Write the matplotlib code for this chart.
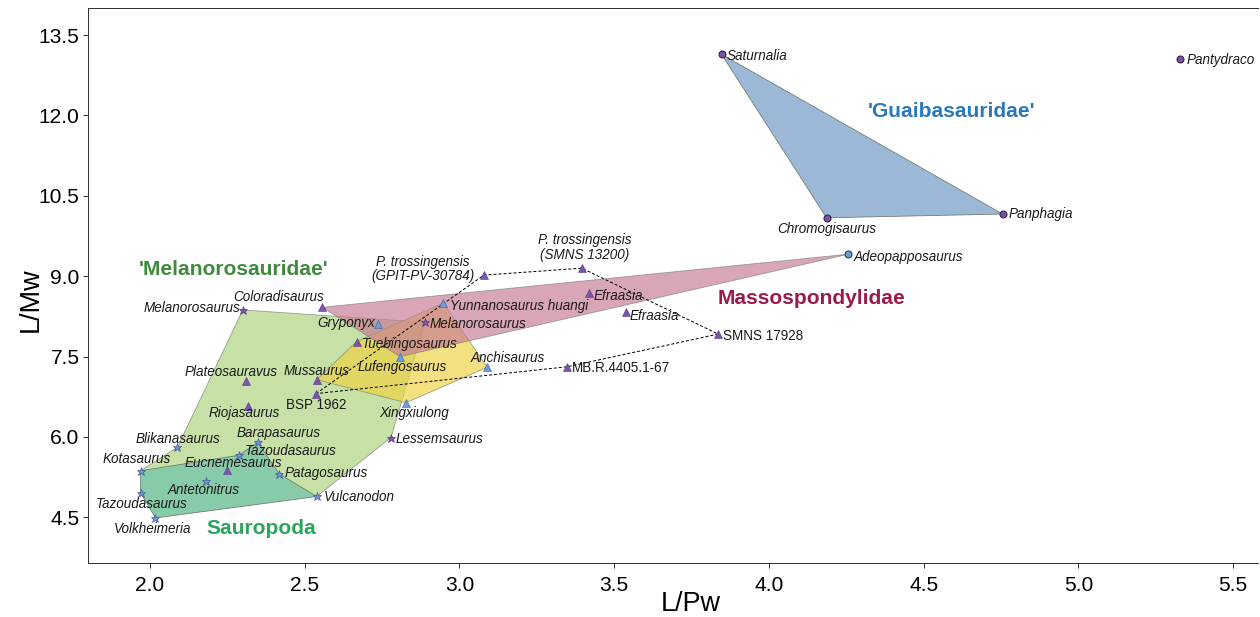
import matplotlib
matplotlib.use("Agg")
from matplotlib import pyplot as plt
from matplotlib.patches import Polygon

plt.rcParams['font.family'] = ['Liberation Sans', 'DejaVu Sans']

# specimen values (L/Pw, L/Mw)
guaiba_names = ['Saturnalia', 'Chromogisaurus', 'Panphagia', 'Pantydraco', 'Adeopapposaurus']
guaiba_x = [3.847, 4.186, 4.755, 5.328, 4.256]
guaiba_y = [13.14, 10.09, 10.16, 13.05, 9.41]

purple_tri_names = ['Coloradisaurus', 'Tuebingosaurus', 'Mussaurus', 'BSP 1962', 'Plateosauravus',
                    'Riojasaurus', 'Eucnemesaurus', 'GPIT', 'SMNS 13200', 'Efraasia1', 'Efraasia2',
                    'SMNS 17928', 'MB.R.4405.1-67']
purple_tri_x = [2.557, 2.668, 2.539, 2.537, 2.310, 2.318, 2.248, 3.079, 3.395, 3.419, 3.537, 3.836, 3.348]
purple_tri_y = [8.42, 7.78, 7.07, 6.81, 7.05, 6.57, 5.38, 9.02, 9.15, 8.68, 8.33, 7.92, 7.31]

blue_tri_names = ['Gryponyx', 'Yunnanosaurus huangi', 'Lufengosaurus', 'Xingxiulong', 'Anchisaurus']
blue_tri_x = [2.738, 2.948, 2.808, 2.827, 3.090]
blue_tri_y = [8.11, 8.50, 7.50, 6.64, 7.30]

purple_star_names = ['MelanorosaurusL', 'MelanorosaurusR', 'Lessemsaurus']
purple_star_x = [2.300, 2.889, 2.779]
purple_star_y = [8.37, 8.14, 5.99]

blue_star_names = ['Blikanasaurus', 'Barapasaurus', 'Tazoudasaurus1', 'Kotasaurus', 'Patagosaurus',
                   'Antetonitrus', 'Tazoudasaurus2', 'Vulcanodon', 'Volkheimeria']
blue_star_x = [2.089, 2.348, 2.288, 1.970, 2.418, 2.180, 1.970, 2.539, 2.018]
blue_star_y = [5.81, 5.90, 5.66, 5.37, 5.31, 5.18, 4.96, 4.89, 4.49]

# P. trossingensis specimens joined by dashed line
ptross_path = ['BSP 1962', 'GPIT', 'SMNS 13200', 'SMNS 17928', 'MB.R.4405.1-67', 'BSP 1962']

# group outlines (vertex order)
hull_melano = ['MelanorosaurusL', 'MelanorosaurusR', 'Lessemsaurus', 'Vulcanodon', 'Kotasaurus', 'Blikanasaurus']
hull_sauropoda = ['Kotasaurus', 'Tazoudasaurus1', 'Barapasaurus', 'Patagosaurus', 'Vulcanodon',
                  'Volkheimeria', 'Tazoudasaurus2']
hull_yellow = ['Mussaurus', 'Tuebingosaurus', 'Yunnanosaurus huangi', 'Anchisaurus', 'Xingxiulong']
hull_masso = ['Coloradisaurus', 'Adeopapposaurus', 'Lufengosaurus']
hull_guaiba = ['Saturnalia', 'Panphagia', 'Chromogisaurus']

pts = {}
for names, xs, ys in [(guaiba_names, guaiba_x, guaiba_y), (purple_tri_names, purple_tri_x, purple_tri_y),
                      (blue_tri_names, blue_tri_x, blue_tri_y), (purple_star_names, purple_star_x, purple_star_y),
                      (blue_star_names, blue_star_x, blue_star_y)]:
    for n, x, y in zip(names, xs, ys):
        pts[n] = (x, y)

# label text, offset (px), alignment, italic
labels = {
    'Saturnalia': ('Saturnalia', 5, -1.7, 'left', True),
    'Chromogisaurus': ('Chromogisaurus', 0, -11.3, 'center', True),
    'Panphagia': ('Panphagia', 5.6, 0, 'left', True),
    'Pantydraco': ('Pantydraco', 7, -1, 'left', True),
    'Adeopapposaurus': ('Adeopapposaurus', 5, -2.4, 'left', True),
    'Yunnanosaurus huangi': ('Yunnanosaurus huangi', 6.7, -3, 'left', True),
    'MelanorosaurusR': ('Melanorosaurus', 5, -1.5, 'left', True),
    'Tuebingosaurus': ('Tuebingosaurus', 5, -2.6, 'left', True),
    'Efraasia1': ('Efraasia', 4, -3, 'left', True),
    'Efraasia2': ('Efraasia', 4.3, -3.7, 'left', True),
    'SMNS 17928': ('SMNS 17928', 5, -2, 'left', False),
    'MB.R.4405.1-67': ('MB.R.4405.1-67', 4.4, -1.6, 'left', False),
    'Tazoudasaurus1': ('Tazoudasaurus', 6, 4, 'left', True),
    'Patagosaurus': ('Patagosaurus', 5.7, 1.3, 'left', True),
    'Vulcanodon': ('Vulcanodon', 6.6, -0.6, 'left', True),
    'Lessemsaurus': ('Lessemsaurus', 5, -1, 'left', True),
    'MelanorosaurusL': ('Melanorosaurus', -2.7, 2.3, 'right', True),
    'Gryponyx': ('Gryponyx', -3.3, 0.7, 'right', True),
    'Coloradisaurus': ('Coloradisaurus', -43.5, 9.8, 'center', True),
    'Lufengosaurus': ('Lufengosaurus', 2.5, -10, 'center', True),
    'Mussaurus': ('Mussaurus', 0.3, 9, 'center', True),
    'BSP 1962': ('BSP 1962', 0.4, -11.3, 'center', False),
    'Anchisaurus': ('Anchisaurus', 20.2, 9, 'center', True),
    'Xingxiulong': ('Xingxiulong', 8, -10.2, 'center', True),
    'Plateosauravus': ('Plateosauravus', -15, 8.4, 'center', True),
    'Riojasaurus': ('Riojasaurus', -3.8, -6.6, 'center', True),
    'Blikanasaurus': ('Blikanasaurus', 0.6, 8, 'center', True),
    'Barapasaurus': ('Barapasaurus', 21.3, 9.6, 'center', True),
    'Kotasaurus': ('Kotasaurus', -4.4, 11.4, 'center', True),
    'Eucnemesaurus': ('Eucnemesaurus', 6.6, 7.3, 'center', True),
    'Antetonitrus': ('Antetonitrus', -2.4, -9, 'center', True),
    'Tazoudasaurus2': ('Tazoudasaurus', 1, -11.6, 'center', True),
    'Volkheimeria': ('Volkheimeria', -2.4, -10.6, 'center', True),
    'GPIT': ('P. trossingensis\n(GPIT-PV-30784)', -61, 6.3, 'center', True),
    'SMNS 13200': ('P. trossingensis\n(SMNS 13200)', 3.3, 20.8, 'center', True),
}

groups = [("'Guaibasauridae'", 4.591, 12.07, '#2b78b8'),
          ("'Melanorosauridae'", 2.271, 9.134, '#3f8a3c'),
          ('Massospondylidae', 4.136, 8.593, '#9b1a4b'),
          ('Sauropoda', 2.361, 4.284, '#2ba55c')]


def main():
    fig = plt.figure(figsize=(1260 / 72, 617 / 72), dpi=72)
    ax = fig.add_axes([88 / 1260, 54 / 617, 1170 / 1260, 555 / 617])

    def poly(names, face, alpha, z):
        xy = [pts[n] for n in names]
        ax.add_patch(Polygon(xy, closed=True, facecolor=face, edgecolor='#707a70',
                             linewidth=0.8, alpha=alpha, zorder=z))

    poly(hull_melano, '#afd380', 0.7, 1)
    poly(hull_sauropoda, '#88cba8', 1.0, 2)
    poly(hull_yellow, '#eed347', 0.7, 3)
    poly(hull_masso, '#c77c96', 0.68, 4)
    poly(hull_guaiba, '#9bb9d7', 1.0, 4)

    px = [pts[n][0] for n in ptross_path]
    py = [pts[n][1] for n in ptross_path]
    ax.plot(px, py, color='black', linestyle=(0, (3, 2)), linewidth=1.0, zorder=5)

    ax.plot(guaiba_x[:4], guaiba_y[:4], 'o', markersize=7, markerfacecolor='#7d4fa3',
            markeredgecolor='#2a1f35', markeredgewidth=1.0, zorder=6)
    ax.plot(guaiba_x[4:], guaiba_y[4:], 'o', markersize=7, markerfacecolor='#6f9bd6',
            markeredgecolor='#2a2f45', markeredgewidth=1.0, zorder=6)
    ax.plot(purple_tri_x, purple_tri_y, '^', markersize=7.5, markerfacecolor='#7a55aa',
            markeredgecolor='#5b3d8c', markeredgewidth=0.6, zorder=6)
    ax.plot(blue_tri_x, blue_tri_y, '^', markersize=7.5, markerfacecolor='#6d9cda',
            markeredgecolor='#45679e', markeredgewidth=0.6, zorder=6)
    ax.plot(purple_star_x, purple_star_y, '*', markersize=9, markerfacecolor='#7a55aa',
            markeredgecolor='#4b3378', markeredgewidth=0.6, zorder=6)
    ax.plot(blue_star_x, blue_star_y, '*', markersize=9, markerfacecolor='#6f92d8',
            markeredgecolor='#3b4f8f', markeredgewidth=0.6, zorder=6)

    for key, (txt, dx, dy, ha, ital) in labels.items():
        ax.annotate(txt, pts[key], xytext=(dx, dy), textcoords='offset points',
                    ha=ha, va='center', fontsize=13.5, linespacing=1.05,
                    style='italic' if ital else 'normal', color='#1a1a1a', zorder=7)

    for txt, x, y, c in groups:
        ax.text(x, y, txt, ha='center', va='center', fontsize=21, fontweight='bold', color=c, zorder=7)

    ax.set_xlim(1.80, 5.58)
    ax.set_ylim(3.649, 14.004)
    ax.set_xticks([2.0, 2.5, 3.0, 3.5, 4.0, 4.5, 5.0, 5.5])
    ax.set_xticklabels(['%.1f' % v for v in ax.get_xticks()])
    ax.set_yticks([4.5, 6.0, 7.5, 9.0, 10.5, 12.0, 13.5])
    ax.set_yticklabels(['%.1f' % v for v in ax.get_yticks()])
    ax.tick_params(labelsize=21, length=5, width=1, color='#333333', direction='out')
    ax.tick_params(axis='x', pad=8)
    for s in ['left', 'bottom', 'top']:
        ax.spines[s].set_color('#333333')
        ax.spines[s].set_linewidth(1.0)
    ax.spines['right'].set_visible(False)
    ax.set_xlabel('L/Pw', fontsize=27)
    ax.set_ylabel('L/Mw', fontsize=27)
    ax.xaxis.set_label_coords(0.515, -0.05)
    ax.yaxis.set_label_coords(-0.038, 0.474)

    fig.savefig('out.png', dpi=72)


if __name__ == "__main__":
    main()
